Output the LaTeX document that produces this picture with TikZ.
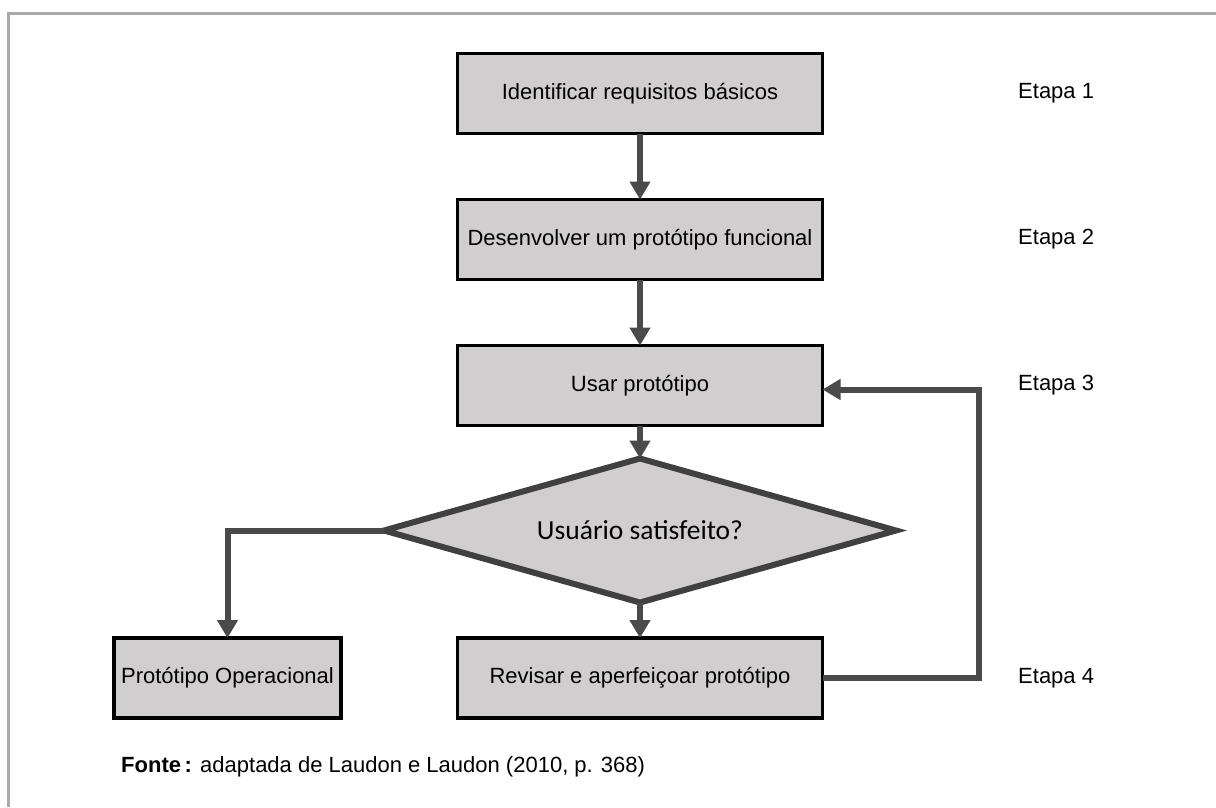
\documentclass[tikz,border=0pt]{standalone}
\usepackage{fontspec}
\setmainfont{Liberation Sans}
\newfontfamily\calib{Carlito}
\usetikzlibrary{arrows.meta,shapes.geometric}
\definecolor{boxfill}{HTML}{D0CECE}
\definecolor{arrowc}{HTML}{4A4A4A}
\definecolor{diac}{HTML}{404040}
\definecolor{framec}{HTML}{A9A9A9}
\tikzset{
  stepbox/.style={draw=black, line width=3.5pt, fill=boxfill, minimum width=365pt, minimum height=80pt, inner sep=0pt, outer sep=0pt, font=\fontsize{22}{26}\selectfont},
  conn/.style={draw=arrowc, line width=6pt, -{Triangle[length=18pt,width=20pt]}},
  stage/.style={anchor=west, inner sep=0pt, font=\fontsize{22}{26}\selectfont},
  decision/.style={diamond, aspect=3.5, draw=diac, line width=6pt, fill=boxfill, minimum width=512pt, minimum height=144pt, inner sep=0pt, outer sep=0pt, font=\calib\fontsize{27.5}{32}\selectfont},
  framel/.style={draw=framec, line width=3pt}
}
\begin{document}
\begin{tikzpicture}[x=1pt,y=-1pt]
\useasboundingbox (0,0) rectangle (1216,807);
\fill[white] (0,0) rectangle (1216,807);
\coordinate (fa) at (8,807);
\coordinate (fb) at (8,13);
\coordinate (fc) at (1216,13);
\draw[framel] (fa) -- (fb) -- (fc);

\node[stepbox] (r1) at (640,93.5) {Identificar requisitos básicos};
\node[stepbox] (r2) at (640,239.5) {Desenvolver um protótipo funcional};
\node[stepbox] (r3) at (640,385.5) {Usar protótipo};
\node[decision] (dia) at (640,530.5) {Usuário satisfeito?};
\node[stepbox] (r4) at (640,678) {Revisar e aperfeiçoar protótipo};
\node[stepbox, minimum width=227pt] (op) at (227.5,678) {Protótipo Operacional};

\node[stage] (e1) at (1018,93.5) {Etapa 1};
\node[stage] (e2) at (1018,239.5) {Etapa 2};
\node[stage] (e3) at (1018,385.5) {Etapa 3};
\node[stage] (e4) at (1018,678) {Etapa 4};

\draw[conn] (r1.south) -- (r2.north);
\draw[conn] (r2.south) -- (r3.north);
\draw[conn] (r3.south) -- (dia.north);
\draw[conn] (dia.south) -- (r4.north);
\draw[conn] (dia.west) -| (op.north);
\draw[conn] (r4.east) -- ++(156,0) |- ([yshift=-4pt]r3.east);

\node[anchor=west, inner sep=0pt, font=\fontsize{22}{26}\selectfont] (src) at (121,767) {\textbf{Fonte}\,\textbf{:} adaptada de Laudon e Laudon (2010, p. 368)};
\end{tikzpicture}
\end{document}
